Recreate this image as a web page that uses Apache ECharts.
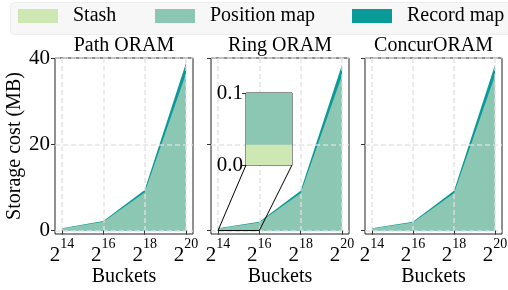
<!DOCTYPE html>
<html>
<head>
<meta charset="utf-8">
<script src="https://cdn.jsdelivr.net/npm/echarts@6/dist/echarts.min.js"></script>
<style>
  html, body { margin: 0; padding: 0; background: #fff; }
  #main { width: 508px; height: 290px; }
</style>
</head>
<body>
<div id="main"></div>
<script>
// log2 of bucket count
var buckets = [14, 16, 18, 20];
var yTicks = [0, 20, 40];

// storage cost in MB
var pathStash = [0.028, 0.028, 0.028, 0.028];
var pathPosMap = [0.44, 2.0, 8.8, 36.3];
var pathRecMap = [0.04, 0.17, 0.6, 2.5];

var ringStash = [0.028, 0.028, 0.028, 0.028];
var ringPosMap = [0.44, 1.85, 8.6, 35.9];
var ringRecMap = [0.04, 0.16, 0.6, 2.5];

var concurStash = [0.028, 0.028, 0.028, 0.028];
var concurPosMap = [0.44, 1.85, 8.6, 35.9];
var concurRecMap = [0.04, 0.16, 0.6, 2.5];

var titles = ['Path ORAM', 'Ring ORAM', 'ConcurORAM'];
var names = ['Stash', 'Position map', 'Record map'];
var colors = ['#cde8b3', '#8cc7b4', '#0a9a98'];

var font = 'Liberation Serif';
var gridLine = { show: true, lineStyle: { type: [5, 3], color: 'rgba(225,225,225,0.85)', width: 1.5 } };

var chart = echarts.init(document.getElementById('main'), null, { renderer: 'canvas' });

// running sums of the layers (value-value axes can't stack on y)
function cumulative(layers) {
  var out = [], acc = buckets.map(function () { return 0; });
  layers.forEach(function (vals) {
    acc = acc.map(function (a, i) { return a + vals[i]; });
    out.push(acc.map(function (v, i) { return [buckets[i], v]; }));
  });
  return out;
}

var grids = [
  { left: 55, top: 58, width: 138, height: 176 },
  { left: 211, top: 58, width: 138, height: 176 },
  { left: 365, top: 58, width: 137, height: 176 }
];

var xAxes = [], yAxes = [], series = [], titleList = [];

grids.forEach(function (g, i) {
  g.show = true;
  g.borderColor = '#222';
  g.borderWidth = 1;
  g.backgroundColor = 'transparent';
  g.containLabel = false;
  g.outerBoundsMode = 'none';

  xAxes.push({
    type: 'value', gridIndex: i, min: 13.66, max: 20.34, z: 5,
    axisLine: { show: false },
    axisTick: { show: true, customValues: buckets, length: 4, lineStyle: { color: '#333' } },
    axisLabel: {
      customValues: buckets, margin: 3,
      formatter: function (v) { return '{b|2}{s|' + v + '}'; },
      rich: {
        b: { fontFamily: font, fontSize: 21, color: '#000' },
        s: { fontFamily: font, fontSize: 14, color: '#000', padding: [0, 0, 22, 0] }
      }
    },
    splitLine: gridLine,
    name: 'Buckets', nameLocation: 'middle', nameGap: 33, nameMoveOverlap: false,
    nameTextStyle: { fontFamily: font, fontSize: 20, color: '#000' }
  });

  yAxes.push({
    type: 'value', gridIndex: i, min: -0.8, max: 40, z: 5,
    axisLine: { show: false },
    axisTick: { show: true, customValues: yTicks, length: 4, lineStyle: { color: '#333' } },
    axisLabel: { show: i === 0, customValues: yTicks, margin: 5, fontFamily: font, fontSize: 21, color: '#000' },
    splitLine: gridLine,
    name: i === 0 ? 'Storage cost (MB)' : '', nameLocation: 'middle', nameGap: 30,
    nameTextStyle: { fontFamily: font, fontSize: 20, color: '#000' }
  });

  titleList.push({
    text: titles[i], left: g.left + g.width / 2, top: 36, textAlign: 'center', padding: 0,
    textStyle: { fontFamily: font, fontSize: 20, fontWeight: 'normal', color: '#000' }
  });
});

// inset in the Ring ORAM panel
grids.push({
  left: 246, top: 93, width: 46, height: 72, show: true, borderColor: '#222', borderWidth: 1,
  backgroundColor: '#fff', z: 8, containLabel: false, outerBoundsMode: 'none'
});
xAxes.push({ type: 'value', gridIndex: 3, min: 14, max: 16, z: 10, show: false });
yAxes.push({
  type: 'value', gridIndex: 3, min: 0, max: 0.1, interval: 0.1, z: 10,
  axisLine: { show: false },
  axisTick: { show: true, length: 4, lineStyle: { color: '#333' } },
  axisLabel: { margin: 3, fontFamily: font, fontSize: 21, color: '#000', formatter: function (v) { return v.toFixed(1); } },
  splitLine: { show: false }
});

var panelData = [
  [pathStash, pathPosMap, pathRecMap],
  [ringStash, ringPosMap, ringRecMap],
  [concurStash, concurPosMap, concurRecMap],
  [ringStash, ringPosMap, ringRecMap]
];

panelData.forEach(function (layers, gi) {
  var tops = cumulative(layers);
  // draw the tallest layer first so lower layers sit on top of it
  for (var k = tops.length - 1; k >= 0; k--) {
    series.push({
      name: names[k], type: 'line',
      xAxisIndex: gi, yAxisIndex: gi,
      data: tops[k], symbol: 'none', silent: true,
      z: gi === 3 ? 10 : 2,
      color: colors[k],
      lineStyle: { width: 0 },
      areaStyle: { color: colors[k], opacity: 1, origin: 'auto' }
    });
  }
});

var legends = [18, 155, 352].map(function (x, k) {
  return {
    data: [names[k]], left: x, top: 6, padding: 0,
    icon: 'rect', itemWidth: 40, itemHeight: 14,
    textStyle: { fontFamily: font, fontSize: 20, color: '#000', padding: [0, 0, 0, 10] }
  };
});

var legendBox = {
  type: 'rect', left: 10, top: 2, z: -1,
  shape: { width: 510, height: 32, r: 4 },
  style: { fill: '#f7f7f7', stroke: '#ededed' }
};

chart.setOption({
  animation: false,
  title: titleList,
  legend: legends,
  grid: grids,
  xAxis: xAxes,
  yAxis: yAxes,
  series: series,
  graphic: [legendBox]
});

// connector lines from the zoomed region to the inset
var m0 = chart.convertToPixel({ gridIndex: 1 }, [14, 0]);
var m1 = chart.convertToPixel({ gridIndex: 1 }, [16, 0]);
var i0 = chart.convertToPixel({ gridIndex: 3 }, [14, 0]);
var i1 = chart.convertToPixel({ gridIndex: 3 }, [16, 0]);

chart.setOption({
  graphic: [legendBox, {
    type: 'polyline', z: 20, silent: true,
    shape: { points: [i0, m0, m1, i1] },
    style: { stroke: '#000', lineWidth: 1, fill: null }
  }]
});
</script>
</body>
</html>
